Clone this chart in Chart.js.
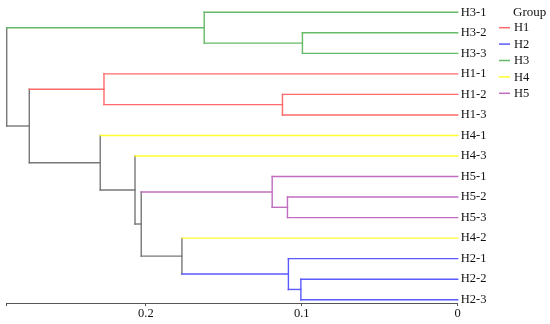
<!DOCTYPE html>
<html><head><meta charset="utf-8">
<script src="https://cdn.jsdelivr.net/npm/chart.js@4"></script>
<style>html,body{margin:0;padding:0;background:#fff}#w{width:550px;height:324px}</style>
</head><body><div id="w"><canvas id="c"></canvas></div>
<script>
// Leaves (top to bottom) and their groups
const leaves = ['H3-1','H3-2','H3-3','H1-1','H1-2','H1-3','H4-1','H4-3','H5-1','H5-2','H5-3','H4-2','H2-1','H2-2','H2-3'];
const leafGroups = ['H3','H3','H3','H1','H1','H1','H4','H4','H5','H5','H5','H4','H2','H2','H2'];
const mergeA = [-2, -5, -10, -14, -13, -9, -1, -4, -12, 6, -8, -7, 8, 7];
const mergeB = [-3, -6, -11, -15, 4, 3, 1, 2, 5, 9, 10, 11, 12, 13];
const mergeH = [0.0996, 0.1124, 0.1092, 0.1006, 0.1086, 0.119, 0.1626, 0.2269, 0.1769, 0.203, 0.207, 0.2293, 0.2748, 0.2893];
const groups = ['H1','H2','H3','H4','H5'];
const groupColors = ['#ff6a6a','#5a5aff','#66b966','#ffff30','#c06cc0'];
const xTicks = [0, 0.1, 0.2];
const joinColor = '#777777';

const colorOf = g => groupColors[groups.indexOf(g)];
function node(id){
  if(id<0){const i=-id-1;return {pos:i,h:0,group:leafGroups[i]};}
  return merged[id-1];
}
const merged=[];
const segments=[];
for(let k=0;k<mergeH.length;k++){
  const a=node(mergeA[k]), b=node(mergeB[k]), h=mergeH[k];
  const pure = a.group && a.group===b.group ? a.group : null;
  [a,b].forEach(ch=>{
    segments.push({pts:[{x:ch.h,y:ch.pos},{x:h,y:ch.pos}],color:ch.group?colorOf(ch.group):joinColor});
  });
  segments.push({pts:[{x:h,y:a.pos},{x:h,y:b.pos}],color:pure?colorOf(pure):joinColor});
  merged.push({pos:(a.pos+b.pos)/2,h:h,group:pure});
}
const rootH = mergeH[mergeH.length-1];

const datasets = segments.map(s=>({data:s.pts,borderColor:s.color,borderWidth:1.4,showLine:true,pointRadius:0,fill:false,clip:false,borderCapStyle:'square'}));

const labelPlugin={id:'labels',afterDraw(chart){
  const ctx=chart.ctx, ys=chart.scales.y, ca=chart.chartArea;
  ctx.save();
  ctx.font='12.5px "Liberation Serif"';
  ctx.fillStyle='#111';ctx.textBaseline='middle';ctx.textAlign='left';
  leaves.forEach((l,i)=>ctx.fillText(l,ca.right+3,ys.getPixelForValue(i)));
  ctx.font='13px "Liberation Serif"';
  ctx.fillText('Group',513,13);
  ctx.font='12.5px "Liberation Serif"';
  groups.forEach((g,i)=>{
    const y=27.7+16.4*i;
    ctx.strokeStyle=groupColors[i];ctx.lineWidth=1.5;
    ctx.beginPath();ctx.moveTo(499,y);ctx.lineTo(510,y);ctx.stroke();
    ctx.fillText(g,514,y+0.5);
  });
  ctx.restore();
}};

new Chart(document.getElementById('c'),{
  type:'scatter',
  data:{datasets},
  options:{
    responsive:true,maintainAspectRatio:false,animation:false,
    layout:{padding:{left:6.7,right:92.3,top:5,bottom:2.9}},
    plugins:{legend:{display:false},tooltip:{enabled:false}},
    scales:{
      x:{type:'linear',reverse:true,min:0,max:rootH,
        afterBuildTicks(ax){ax.ticks=xTicks.concat([rootH]).map(v=>({value:v}));},
        ticks:{padding:0,color:'#111',font:{family:'"Liberation Serif"',size:12.5},maxRotation:0,autoSkip:false,
          callback:(v)=>xTicks.includes(v)?String(v):''},
        grid:{drawOnChartArea:false,drawTicks:true,tickLength:3,color:'#555'},
        border:{display:true,color:'#555',width:1}},
      y:{type:'linear',display:false,reverse:true,min:-0.355,max:14.165}
    }
  },
  plugins:[labelPlugin]
});
</script></body></html>
